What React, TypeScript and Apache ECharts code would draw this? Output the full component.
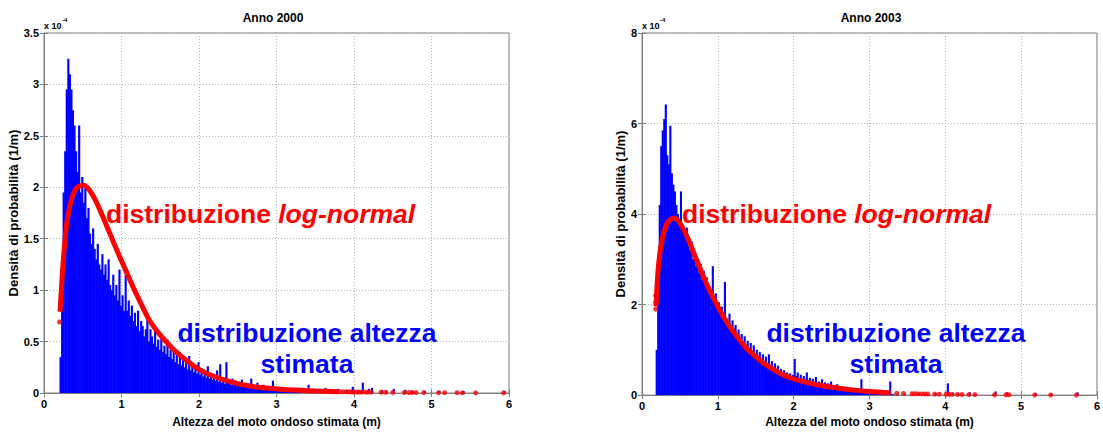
import React, { useEffect, useRef } from "react";
import * as echarts from "echarts";

// ---------- DATA ----------
const binWidth = 0.02;
const titles = ["Anno 2000", "Anno 2003"];
const xTickValues = [0, 1, 2, 3, 4, 5, 6];
const yMax = [3.5, 8];
const yInterval = [0.5, 2];

// histogram 2000 (units 1e-4), bins start at 0.20, width 0.02
const hist2000Start = 0.2;
const hist2000Values = [
  0.35, 1.25, 1.95, 2.35, 2.95, 3.25, 3.1, 2.95, 2.75, 2.6, 2.35, 2.15, 2.6, 1.95, 2.1, 1.85, 2.0, 1.7, 1.8, 1.55,
  1.45, 1.6, 1.4, 1.3, 1.45, 1.25, 1.2, 1.35, 1.15, 1.25, 1.1, 1.3, 1.05, 1.0, 1.15, 0.95, 1.05, 0.9, 1.2, 0.85,
  0.95, 0.8, 1.15, 0.8, 0.9, 0.75, 0.85, 0.7, 0.78, 0.65, 0.8, 0.6, 0.7, 0.65, 0.55, 0.62, 0.74, 0.5, 0.62, 0.55,
  0.48, 0.6, 0.45, 0.52, 0.42, 0.56, 0.4, 0.46, 0.38, 0.52, 0.35, 0.42, 0.33, 0.44, 0.3, 0.38, 0.28, 0.4, 0.27, 0.33,
  0.25, 0.32, 0.23, 0.36, 0.22, 0.28, 0.2, 0.26, 0.19, 0.3, 0.18, 0.24, 0.16, 0.22, 0.15, 0.26, 0.14, 0.19, 0.13, 0.18,
  0.12, 0.22, 0.11, 0.28, 0.1, 0.15, 0.09, 0.3, 0.1, 0.13, 0.08, 0.14, 0.08, 0.12, 0.07, 0.11, 0.06, 0.13, 0.06, 0.09,
  0.05, 0.08, 0.05, 0.14, 0.05, 0.07, 0.04, 0.1, 0.04, 0.06, 0.04, 0.08, 0.03, 0.06, 0.03, 0.05, 0.03, 0.12, 0.02, 0.04,
  0.03, 0.06, 0.02, 0.03, 0.02, 0.05, 0.02, 0.03, 0.01, 0.04, 0.02, 0.02, 0.01, 0.03, 0.01, 0.02,
];
const hist2000TailX = [3.4, 3.48, 3.55, 3.62, 3.7, 3.78, 3.9, 3.97, 4.04, 4.1, 4.18, 4.22, 4.35, 4.41, 4.5, 4.65, 4.75, 4.9, 5.09, 5.4, 5.93];
const hist2000TailY = [0.08, 0.04, 0.03, 0.05, 0.02, 0.04, 0.03, 0.06, 0.03, 0.1, 0.04, 0.05, 0.03, 0.02, 0.04, 0.03, 0.02, 0.02, 0.02, 0.02, 0.02];

// histogram 2003 (units 1e-4), bins start at 0.18, width 0.02
const hist2003Start = 0.18;
const hist2003Values = [
  1.0, 2.6, 4.2, 5.5, 5.85, 6.1, 6.42, 5.3, 5.1, 5.95, 4.9, 4.65, 4.5, 4.2, 4.0, 3.9, 4.5, 3.75, 3.6, 3.45,
  3.7, 3.3, 3.2, 3.4, 3.0, 3.15, 2.85, 2.95, 2.7, 2.9, 2.55, 2.75, 2.45, 2.6, 2.3, 2.4, 2.2, 2.85, 2.1, 2.25,
  1.95, 2.05, 1.85, 1.95, 1.75, 2.5, 1.7, 1.6, 1.8, 1.5, 1.65, 1.4, 1.55, 1.3, 1.45, 1.25, 1.35, 1.15, 1.3, 1.1,
  1.2, 1.0, 1.15, 0.95, 1.1, 0.9, 1.0, 0.85, 0.95, 0.8, 0.9, 0.75, 0.85, 0.7, 0.9, 0.6, 0.75, 0.55, 0.7, 0.5,
  0.65, 0.48, 0.58, 0.45, 0.55, 0.42, 0.5, 0.38, 0.48, 0.36, 0.45, 0.8, 0.42, 0.5, 0.38, 0.45, 0.35, 0.42, 0.32, 0.5,
  0.3, 0.38, 0.28, 0.36, 0.26, 0.4, 0.25, 0.3, 0.22, 0.35, 0.2, 0.28, 0.2, 0.26, 0.18, 0.3, 0.16, 0.22, 0.15, 0.24,
  0.14, 0.2, 0.12, 0.18, 0.11, 0.16, 0.1, 0.15, 0.09, 0.13, 0.09, 0.12, 0.08, 0.11, 0.07, 0.35, 0.07, 0.1, 0.06, 0.09,
  0.05, 0.08, 0.05, 0.07, 0.04, 0.06, 0.04, 0.05, 0.03, 0.06, 0.03, 0.04, 0.03, 0.05, 0.3, 0.02, 0.02,
];
const hist2003TailX = [3.36, 3.45, 3.56, 3.64, 3.73, 3.86, 4.02, 4.09, 4.16, 4.31, 4.39, 4.65, 4.8, 5.18, 5.39, 5.73];
const hist2003TailY = [0.03, 0.04, 0.02, 0.05, 0.03, 0.04, 0.26, 0.05, 0.03, 0.06, 0.02, 0.08, 0.06, 0.04, 0.03, 0.06];

// log-normal fit curves (units 1e-4)
const fit2000X = [0.206, 0.22, 0.24, 0.27, 0.3, 0.34, 0.38, 0.43, 0.51, 0.58, 0.66, 0.75, 0.85, 0.95, 1.05, 1.15, 1.25, 1.35, 1.45, 1.55, 1.65, 1.75, 1.85, 2.0, 2.2, 2.4, 2.6, 2.8, 3.0, 3.25, 3.5, 3.8];
const fit2000Y = [0.79, 0.95, 1.2, 1.48, 1.68, 1.84, 1.94, 2.0, 2.02, 1.98, 1.88, 1.73, 1.55, 1.37, 1.2, 1.03, 0.87, 0.72, 0.61, 0.52, 0.44, 0.37, 0.31, 0.23, 0.16, 0.11, 0.075, 0.053, 0.04, 0.028, 0.02, 0.013];
const fit2000DotX = [0.2, 3.82, 3.86, 3.9, 3.94, 3.97, 4.0, 4.04, 4.07, 4.1, 4.15, 4.18, 4.22, 4.35, 4.41, 4.5, 4.65, 4.71, 4.75, 4.8, 4.9, 5.09, 5.17, 5.33, 5.4, 5.57, 5.93];
const fit2000DotY = [0.69, 0.012, 0.012, 0.011, 0.011, 0.01, 0.01, 0.01, 0.009, 0.009, 0.009, 0.008, 0.008, 0.007, 0.007, 0.006, 0.005, 0.005, 0.005, 0.004, 0.004, 0.003, 0.003, 0.003, 0.002, 0.002, 0.001];

const fit2003X = [0.185, 0.2, 0.22, 0.25, 0.29, 0.34, 0.42, 0.5, 0.6, 0.7, 0.8, 0.9, 1.0, 1.1, 1.2, 1.3, 1.4, 1.5, 1.6, 1.7, 1.8, 1.9, 2.0, 2.2, 2.4, 2.6, 2.8, 3.0, 3.28];
const fit2003Y = [1.96, 2.45, 2.9, 3.3, 3.6, 3.82, 3.91, 3.8, 3.48, 3.07, 2.66, 2.28, 1.96, 1.66, 1.41, 1.19, 1.0, 0.85, 0.71, 0.6, 0.5, 0.42, 0.36, 0.27, 0.2, 0.15, 0.11, 0.08, 0.05];
const fit2003DotX = [0.18, 0.18, 0.18, 3.36, 3.45, 3.56, 3.6, 3.64, 3.69, 3.73, 3.77, 3.86, 3.92, 4.01, 4.05, 4.09, 4.16, 4.22, 4.31, 4.39, 4.65, 4.8, 4.84, 5.18, 5.39, 5.73];
const fit2003DotY = [1.9, 2.05, 2.2, 0.04, 0.035, 0.03, 0.03, 0.028, 0.026, 0.025, 0.024, 0.022, 0.02, 0.018, 0.017, 0.016, 0.015, 0.014, 0.012, 0.011, 0.008, 0.007, 0.007, 0.005, 0.004, 0.003];

// ---------- STYLE ----------
const FONT = '"Liberation Sans", Arial, Helvetica, sans-serif';
const AXIS_COLOR = "#808080";
const GRID_COLOR = "#b4b4b4";
const BLUE = "#0000ff";
const RED = "#ff0000";

const zip = (xs: number[], ys: number[]) => xs.map((x, i) => [x, ys[i]]);

function histSeries(start: number, values: number[], tailX: number[], tailY: number[], axis: number) {
  const data = values
    .map((v, i) => [start + i * binWidth, v, binWidth])
    .concat(tailX.map((x, i) => [x, tailY[i], binWidth]));
  return {
    type: "custom",
    xAxisIndex: axis,
    yAxisIndex: axis,
    z: 1,
    data,
    encode: { x: 0, y: 1 },
    renderItem: (_p: any, api: any) => {
      const x0 = api.value(0);
      const v = api.value(1);
      const w = api.value(2);
      const p0 = api.coord([x0, v]);
      const p1 = api.coord([x0 + w, 0]);
      return {
        type: "rect",
        shape: { x: p0[0], y: p0[1], width: Math.max(p1[0] - p0[0] + 0.6, 1.2), height: p1[1] - p0[1] },
        style: { fill: BLUE },
      };
    },
  };
}

function lineSeries(xs: number[], ys: number[], axis: number) {
  return {
    type: "line",
    xAxisIndex: axis,
    yAxisIndex: axis,
    z: 3,
    data: zip(xs, ys),
    smooth: 0.3,
    symbol: "none",
    lineStyle: { color: RED, width: 5 },
  };
}

function dotSeries(xs: number[], ys: number[], axis: number) {
  return {
    type: "scatter",
    xAxisIndex: axis,
    yAxisIndex: axis,
    z: 4,
    data: zip(xs, ys),
    symbolSize: 5,
    itemStyle: { color: RED },
  };
}

const grids = [
  { left: 44, top: 33, width: 465, height: 364 },
  { left: 642, top: 33, width: 464, height: 364 },
];

function buildOption() {
  const xAxis: any[] = [];
  const yAxis: any[] = [];
  grids.forEach((_g, gi) => {
    xAxis.push({
      type: "value",
      gridIndex: gi,
      min: 0,
      max: 6,
      interval: 1,
      name: "Altezza del moto ondoso stimata (m)",
      nameLocation: "middle",
      nameGap: gi === 0 ? 23 : 19,
      nameTextStyle: { fontFamily: FONT, fontWeight: "bold", fontSize: 12, color: "#000" },
      axisLine: { show: true, lineStyle: { color: AXIS_COLOR } },
      axisTick: { show: true, inside: true, length: 4, lineStyle: { color: AXIS_COLOR } },
      axisLabel: {
        fontFamily: FONT, fontWeight: "bold", fontSize: 11, color: "#000", margin: 5,
        formatter: (v: number) => (xTickValues.includes(v) ? String(v) : ""),
      },
      splitLine: { show: true, lineStyle: { color: GRID_COLOR, type: [1, 2] } },
    });
    xAxis.push({
      type: "value", gridIndex: gi, position: "top", min: 0, max: 6, interval: 1,
      axisLine: { show: true, lineStyle: { color: AXIS_COLOR } },
      axisTick: { show: true, inside: true, length: 4, lineStyle: { color: AXIS_COLOR } },
      axisLabel: { show: false }, splitLine: { show: false },
    });
    yAxis.push({
      type: "value",
      gridIndex: gi,
      min: 0,
      max: yMax[gi],
      interval: yInterval[gi],
      name: "Densità di probabilità (1/m)",
      nameLocation: "middle",
      nameGap: gi === 0 ? 15 : 14,
      nameRotate: 90,
      nameTextStyle: { fontFamily: FONT, fontWeight: "bold", fontSize: 13, color: "#000" },
      axisLine: { show: true, lineStyle: { color: AXIS_COLOR } },
      axisTick: { show: true, inside: true, length: 4, lineStyle: { color: AXIS_COLOR } },
      axisLabel: { fontFamily: FONT, fontWeight: "bold", fontSize: 11, color: "#000", margin: 5 },
      splitLine: { show: true, lineStyle: { color: GRID_COLOR, type: [1, 2] } },
    });
    yAxis.push({
      type: "value", gridIndex: gi, position: "right", min: 0, max: yMax[gi], interval: yInterval[gi],
      axisLine: { show: true, lineStyle: { color: AXIS_COLOR } },
      axisTick: { show: true, inside: true, length: 4, lineStyle: { color: AXIS_COLOR } },
      axisLabel: { show: false }, splitLine: { show: false },
    });
  });

  const series: any[] = [
    histSeries(hist2000Start, hist2000Values, hist2000TailX, hist2000TailY, 0),
    lineSeries(fit2000X, fit2000Y, 0),
    dotSeries(fit2000DotX, fit2000DotY, 0),
    histSeries(hist2003Start, hist2003Values, hist2003TailX, hist2003TailY, 2),
    lineSeries(fit2003X, fit2003Y, 2),
    dotSeries(fit2003DotX, fit2003DotY, 2),
  ];

  const big = { fontFamily: FONT, fontWeight: "bold", fontSize: 26.5 } as any;
  const txt = (x: number, y: number, text: string, extra: any = {}) => ({
    type: "text",
    x,
    y,
    z: 100,
    style: { text, fill: "#000", fontFamily: FONT, fontWeight: "bold", fontSize: 12, textAlign: "center", textVerticalAlign: "middle", ...extra },
  });
  const redLabel = (x: number, y: number) => ({
    type: "text",
    x,
    y,
    z: 100,
    style: {
      text: "{n|distribuzione }{i|log-normal}",
      textAlign: "left",
      textVerticalAlign: "middle",
      rich: {
        n: { ...big, color: RED, fill: RED },
        i: { ...big, fontStyle: "italic", color: RED, fill: RED },
      },
    },
  });

  const graphic: any[] = [
    txt(273, 18, titles[0]),
    txt(871, 18, titles[1]),
    txt(44, 26, "x 10", { textAlign: "left", fontSize: 9 }),
    txt(62, 20, "-4", { textAlign: "left", fontSize: 6 }),
    txt(642, 26, "x 10", { textAlign: "left", fontSize: 9 }),
    txt(660, 20, "-4", { textAlign: "left", fontSize: 6 }),
    redLabel(106, 214),
    redLabel(682, 214),
    txt(307, 333, "distribuzione altezza", { ...big, fill: BLUE }),
    txt(307, 364, "stimata", { ...big, fill: BLUE }),
    txt(896, 333, "distribuzione altezza", { ...big, fill: BLUE }),
    txt(896, 364, "stimata", { ...big, fill: BLUE }),
  ];

  return {
    animation: false,
    backgroundColor: "#ffffff",
    grid: grids.map((g) => ({ ...g, show: true, borderColor: AXIS_COLOR, borderWidth: 1, backgroundColor: "#fff", containLabel: false })),
    xAxis,
    yAxis,
    series,
    graphic,
  };
}

export default function App() {
  const ref = useRef<HTMLDivElement>(null);
  useEffect(() => {
    if (!ref.current) return;
    const chart = echarts.init(ref.current, undefined, { renderer: "svg" });
    chart.setOption(buildOption() as any);
    return () => chart.dispose();
  }, []);
  return (
    <div
      ref={ref}
      style={{ position: "absolute", left: 0, top: 0, width: 1103, height: 433, background: "#fff" }}
    />
  );
}
